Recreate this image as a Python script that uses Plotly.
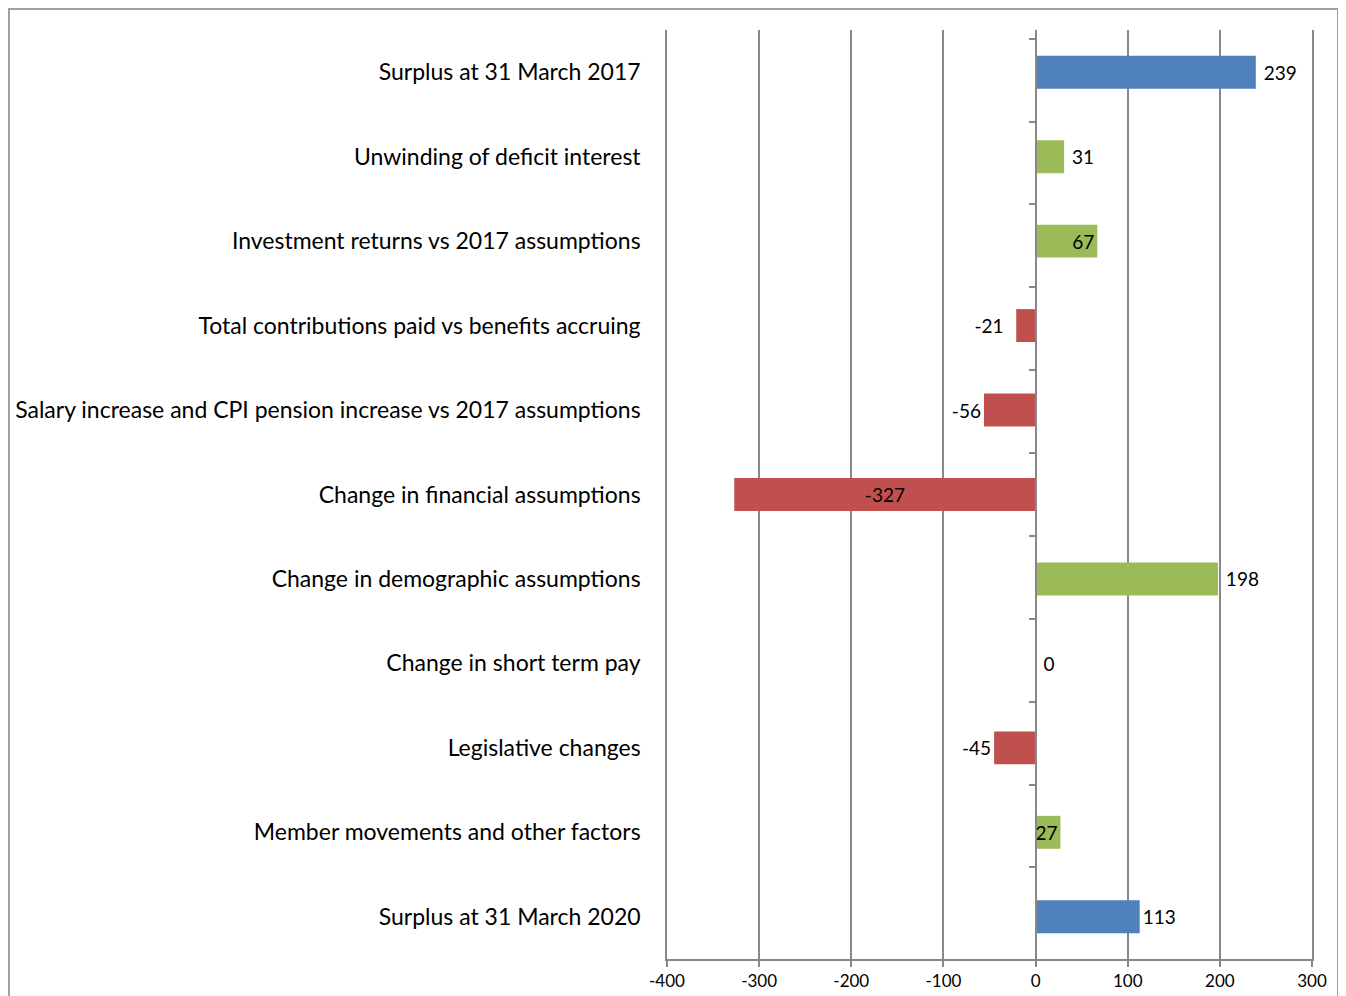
import plotly.graph_objects as go

categories = [
    "Surplus at 31 March 2017",
    "Unwinding of deficit interest",
    "Investment returns vs 2017 assumptions",
    "Total contributions paid vs benefits accruing",
    "Salary increase and CPI pension increase vs 2017 assumptions",
    "Change in financial assumptions",
    "Change in demographic assumptions",
    "Change in short term pay",
    "Legislative changes",
    "Member movements and other factors",
    "Surplus at 31 March 2020",
]
values = [239, 31, 67, -21, -56, -327, 198, 0, -45, 27, 113]
groups = ["total", "pos", "pos", "neg", "neg", "neg", "pos", "pos", "neg", "pos", "total"]
x_ticks = [-400, -300, -200, -100, 0, 100, 200, 300]

# label placement (Excel-style, styling only)
label_pos = ["outside", "outside", "inside", "outside", "outside", "inside",
             "outside", "outside", "outside", "inside", "outside"]
label_gap = [1, 1, 0, 2, 0, 0, 1, 1, 0, 0, 0]   # extra non-breaking spaces

colors = {"total": "#4F81BD", "pos": "#9BBB59", "neg": "#C0504D"}
anchors = {"total": "end", "pos": "end", "neg": "middle"}

FONT = "Lato, 'Open Sans', sans-serif"
GRID = "#888888"
NB = "\u00a0"


def label(i):
    s = str(values[i])
    pad = NB * label_gap[i]
    return s + pad if values[i] < 0 else pad + s


fig = go.Figure()
for g in ["total", "pos", "neg"]:
    idx = [i for i, gg in enumerate(groups) if gg == g]
    fig.add_trace(go.Bar(
        orientation="h",
        y=[categories[i] for i in idx],
        x=[values[i] for i in idx],
        text=[label(i) for i in idx],
        textposition=[label_pos[i] for i in idx],
        insidetextanchor=anchors[g],
        textangle=0,
        constraintext="none",
        cliponaxis=False,
        textfont=dict(family=FONT, size=19, color="#000000"),
        insidetextfont=dict(family=FONT, size=19, color="#000000"),
        outsidetextfont=dict(family=FONT, size=19, color="#000000"),
        marker=dict(color=colors[g], line=dict(width=0)),
        showlegend=False,
        hoverinfo="x+y",
    ))

# invisible trace carrying the category axis drawn at x = 0 (tick marks)
fig.add_trace(go.Scatter(
    x=[0] * len(categories), y=categories, yaxis="y2",
    mode="markers", marker=dict(opacity=0), showlegend=False, hoverinfo="skip",
))

L, R, T, B = 659, 34, 22, 37
W, H = 1338, 988
pw, ph = W - L - R, H - T - B

fig.update_layout(
    width=W, height=H,
    margin=dict(l=L, r=R, t=T, b=B, pad=0, autoexpand=False),
    paper_bgcolor="white", plot_bgcolor="white",
    barmode="overlay", bargap=0.61,
    font=dict(family=FONT, color="#000000"),
    xaxis=dict(
        range=[-400, 300], tickvals=x_ticks, ticktext=[str(v) for v in x_ticks],
        automargin=False,
        showgrid=True, gridcolor=GRID, gridwidth=1.6,
        zeroline=False,
        showline=True, linecolor=GRID, linewidth=1.6,
        ticks="outside", ticklen=6, tickcolor=GRID, tickwidth=1.6,
        tickfont=dict(family=FONT, size=17, color="#000000"),
    ),
    yaxis=dict(
        type="category", categoryorder="array", categoryarray=categories,
        autorange="reversed", automargin=False,
        showgrid=False, zeroline=False,
        showline=True, mirror=True, linecolor=GRID, linewidth=1.6,
        ticks="", ticklabelstandoff=20,
        tickfont=dict(family=FONT, size=23, color="#000000"),
    ),
    yaxis2=dict(
        type="category", categoryorder="array", categoryarray=categories,
        autorange="reversed", overlaying="y", anchor="free", position=4 / 7,
        side="left", showticklabels=False, showgrid=False, zeroline=False,
        automargin=False,
        showline=True, linecolor=GRID, linewidth=1.6,
        ticks="outside", tickson="boundaries", ticklen=6, tickcolor=GRID, tickwidth=1.6,
    ),
    shapes=[dict(
        type="rect", xref="paper", yref="paper",
        x0=(1 - L) / pw, x1=(1330 - L) / pw,
        y0=(ph + T - 1000) / ph, y1=(ph + T - 1) / ph,
        line=dict(color="#A0A0A0", width=2), fillcolor="rgba(0,0,0,0)", layer="below",
    )],
)

fig.write_html("out.html")
